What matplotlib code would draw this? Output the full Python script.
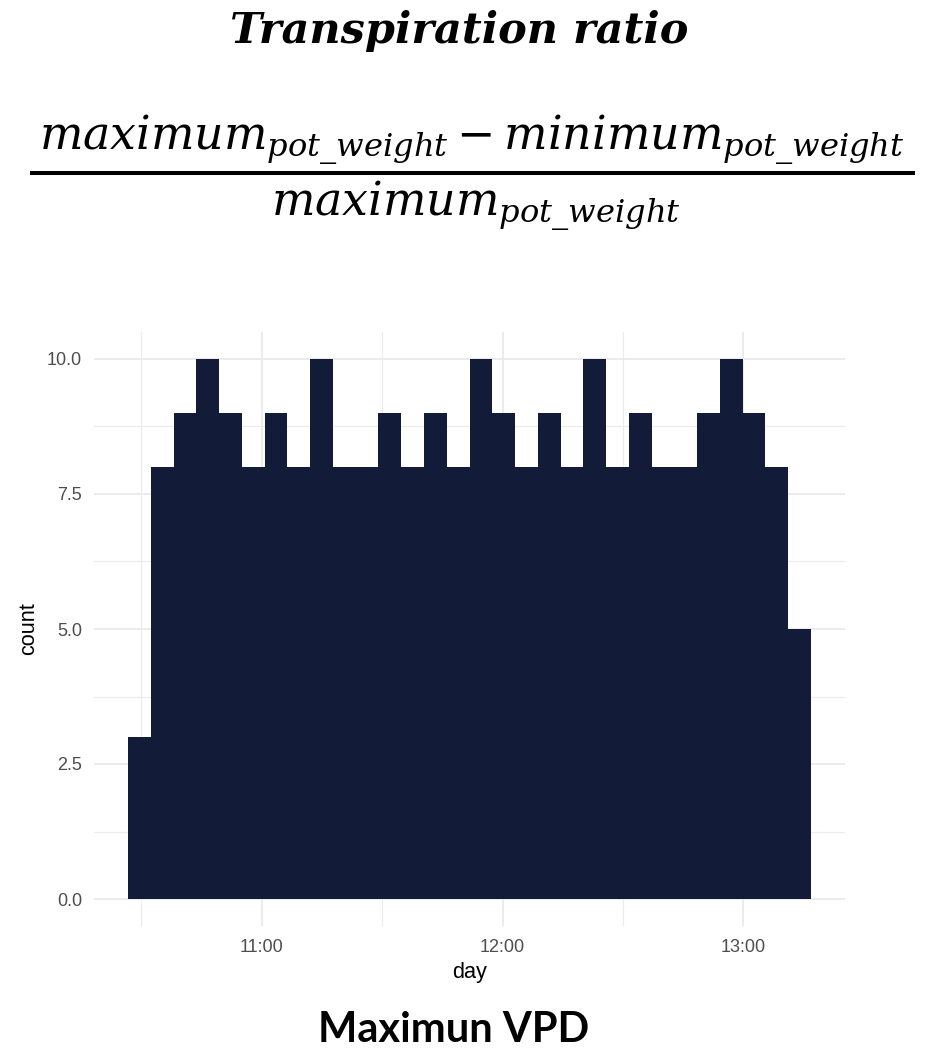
import numpy as np
import matplotlib
matplotlib.use("Agg")
import matplotlib.pyplot as plt
from matplotlib.lines import Line2D
from matplotlib.ticker import FixedLocator, FuncFormatter

# Histogram of observation times (30 bins)
counts = [3, 8, 9, 10, 9, 8, 9, 8, 10, 8,
          8, 9, 8, 9, 8, 10, 9, 8, 9, 8,
          10, 8, 9, 8, 8, 9, 10, 9, 8, 5]
bin_start_hour = 10.4445          # left edge of the first bin (hours of day)
bin_width_hour = 0.09455          # bin width in hours (~5.7 min)

x_major = [11, 12, 13]
x_minor = [10.5, 11.5, 12.5, 13.5]
y_major = [0.0, 2.5, 5.0, 7.5, 10.0]
y_minor = [1.25, 3.75, 6.25, 8.75]

title_text = "Transpiration ratio"
numerator = r"$maximum_{pot\_weight} - minimum_{pot\_weight}$"
denominator = r"$maximum_{pot\_weight}$"
caption = "Maximun VPD"

plt.rcParams["mathtext.fontset"] = "dejavuserif"

W, H = 937, 1055
fig = plt.figure(figsize=(W / 100, H / 100), dpi=100)

# Panel
ax = fig.add_axes([94 / W, (H - 926) / H, 751 / W, 594 / H])
edges = bin_start_hour + bin_width_hour * np.arange(len(counts) + 1)
ax.bar(edges[:-1], counts, width=bin_width_hour, align="edge",
       color="#121c38", linewidth=0, zorder=3)

span = edges[-1] - edges[0]
ax.set_xlim(edges[0] - 0.05 * span, edges[-1] + 0.05 * span)
ax.set_ylim(-0.5, 10.5)

ax.xaxis.set_major_locator(FixedLocator(x_major))
ax.xaxis.set_minor_locator(FixedLocator(x_minor))
ax.yaxis.set_major_locator(FixedLocator(y_major))
ax.yaxis.set_minor_locator(FixedLocator(y_minor))
ax.xaxis.set_major_formatter(FuncFormatter(lambda v, p: f"{int(v):02d}:{int(round((v % 1) * 60)):02d}"))
ax.yaxis.set_major_formatter(FuncFormatter(lambda v, p: f"{v:.1f}"))

grid_col = "#ebebeb"
ax.grid(which="major", color=grid_col, linewidth=1.4, zorder=0)
ax.grid(which="minor", color=grid_col, linewidth=0.8, zorder=0)
ax.set_axisbelow(True)
for s in ax.spines.values():
    s.set_visible(False)
ax.tick_params(which="both", length=0)
ax.tick_params(axis="both", labelsize=13, labelcolor="#4d4d4d")
ax.tick_params(axis="y", pad=8.5)
ax.tick_params(axis="x", pad=9)
for lab in ax.get_xticklabels() + ax.get_yticklabels():
    lab.set_family("Liberation Sans")

ax.set_xlabel("day", fontsize=15.6, family="Liberation Sans", labelpad=5)
ax.set_ylabel("count", fontsize=15.6, family="Liberation Sans", labelpad=6)

# Header: title and formula
fig.text(459 / W, 1 - 43 / H, title_text, ha="center", va="baseline",
         fontsize=31, fontweight="bold", fontstyle="italic",
         family="DejaVu Serif")
fig.text(472 / W, 1 - 150 / H, numerator, ha="center", va="baseline", fontsize=33)
fig.text(476 / W, 1 - 216 / H, denominator, ha="center", va="baseline", fontsize=33)
fig.add_artist(Line2D([32 / W, 913 / W], [1 - 173 / H, 1 - 173 / H],
                      transform=fig.transFigure, color="black", linewidth=2.9))

# Caption
fig.text(454 / W, 1 - 1030 / H, caption, ha="center", va="center",
         fontsize=30, fontweight="bold", family="Lato")

fig.savefig("out.png", dpi=100)
